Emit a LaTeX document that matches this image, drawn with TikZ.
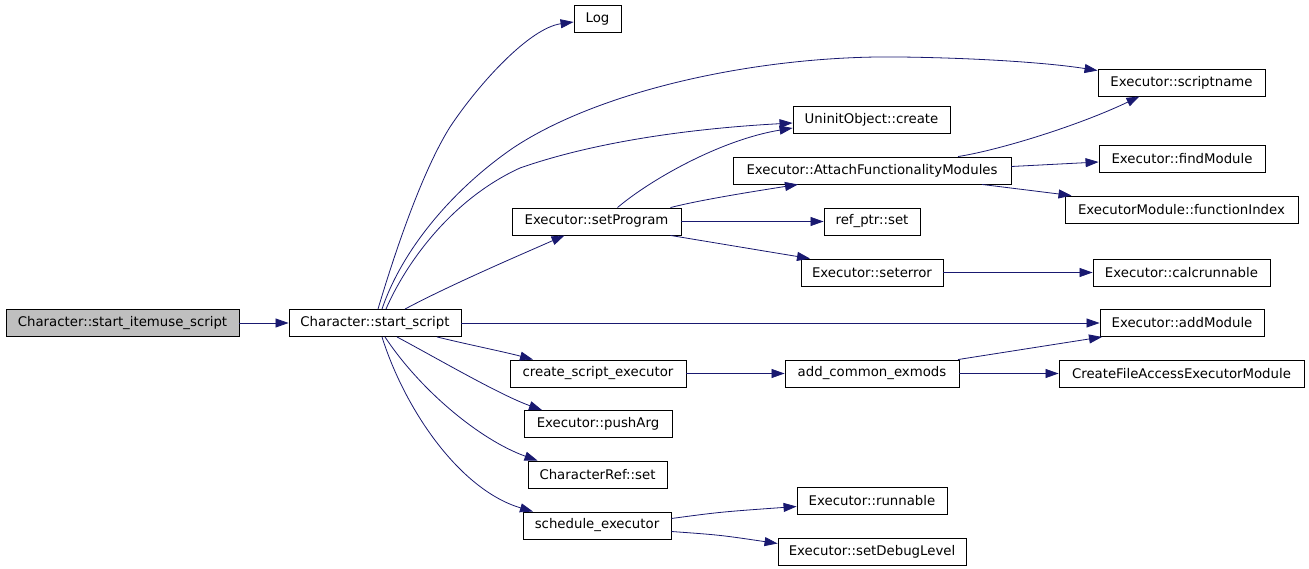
\documentclass[tikz,border=0pt]{standalone}
\usepackage{fontspec}
\setmainfont{DejaVu Sans}
\usetikzlibrary{arrows.meta}
\definecolor{edgeblue}{HTML}{191970}
\begin{document}
\begin{tikzpicture}[x=1pt,y=-1pt,
  box/.style={draw=black,line width=0.9pt,fill=white,minimum height=27pt,inner sep=0pt,
    font=\fontsize{13.3}{16}\selectfont,text=black},
  e/.style={draw=edgeblue,line width=0.8pt,-{Triangle[length=13pt,width=9pt]}}]
\useasboundingbox[fill=white] (0,0) rectangle (1309,569);
% nodes
\node[box,fill={rgb,255:red,191;green,191;blue,191},minimum width=233pt] (itemuse) at (122.5,323) {Character::start\_itemuse\_script};
\node[box,minimum width=172pt] (start) at (375,323) {Character::start\_script};
\node[box,minimum width=47pt] (Log) at (597.5,19) {Log};
\node[box,minimum width=167pt] (scriptname) at (1181.5,82.5) {Executor::scriptname};
\node[box,minimum width=157pt] (uninit) at (871.5,120) {UninitObject::create};
\node[box,minimum width=278pt] (attach) at (872,170.5) {Executor::AttachFunctionalityModules};
\node[box,minimum width=166pt] (findModule) at (1182,158.5) {Executor::findModule};
\node[box,minimum width=233pt] (functionIndex) at (1181.5,209.5) {ExecutorModule::functionIndex};
\node[box,minimum width=169pt] (setProgram) at (596.5,221.5) {Executor::setProgram};
\node[box,minimum width=96pt] (refptr) at (872,221.5) {ref\_ptr::set};
\node[box,minimum width=142pt] (seterror) at (872,272.5) {Executor::seterror};
\node[box,minimum width=177pt] (calcrunnable) at (1181.5,272.5) {Executor::calcrunnable};
\node[box,minimum width=164pt] (addModule) at (1182,323) {Executor::addModule};
\node[box,minimum width=176pt] (create) at (598,373.5) {create\_script\_executor};
\node[box,minimum width=174pt] (addcommon) at (872,373.5) {add\_common\_exmods};
\node[box,minimum width=245pt] (createfile) at (1181.5,373.5) {CreateFileAccessExecutorModule};
\node[box,minimum width=148pt] (pushArg) at (598,424) {Executor::pushArg};
\node[box,minimum width=139pt] (charref) at (597.5,474.5) {CharacterRef::set};
\node[box,minimum width=148pt] (schedule) at (597,525.5) {schedule\_executor};
\node[box,minimum width=150pt] (runnable) at (872,500.5) {Executor::runnable};
\node[box,minimum width=188pt] (debuglevel) at (872,551.5) {Executor::setDebugLevel};
% edges
\draw[e] (itemuse.east) -- (start.west);
\draw[e] ([xshift=3pt]start.north) .. controls (392,262) and (420,175) .. (450,127)
  .. controls (480,82) and (530,28) .. ([yshift=-3pt]Log.west);
\draw[e] ([xshift=7pt]start.north) .. controls (402,250) and (452,190) .. (513,148)
  .. controls (600,90) and (760,55) .. (900,57)
  .. controls (980,58) and (1050,63) .. ([yshift=-2pt]scriptname.north west);
\draw[e] ([xshift=11pt]start.north) .. controls (405,265) and (450,200) .. (520,168)
  .. controls (600,140) and (700,128) .. ([yshift=-3pt]uninit.west);
\draw[e] ([xshift=30pt]start.north) .. controls (450,285) and (520,255) .. ([xshift=-32pt]setProgram.south);
\draw[e] (start.east) -- (addModule.west);
\draw[e] ([xshift=62pt]start.south) .. controls (470,345) and (505,352) .. ([xshift=-65pt]create.north);
\draw[e] ([xshift=22pt]start.south) .. controls (440,360) and (500,395) .. ([xshift=-56pt]pushArg.north);
\draw[e] ([xshift=10pt]start.south) .. controls (420,390) and (480,440) .. ([xshift=-60pt]charref.north);
\draw[e] ([xshift=7pt]start.south) .. controls (405,410) and (460,490) .. ([xshift=-64pt]schedule.north);
\draw[e] ([xshift=21pt]setProgram.north) .. controls (650,180) and (720,140) .. ([yshift=-8pt]uninit.west);
\draw[e] ([xshift=74pt]setProgram.north) .. controls (700,200) and (750,192) .. ([xshift=-74pt]attach.south);
\draw[e] (setProgram.east) -- (refptr.west);
\draw[e] ([xshift=74pt]setProgram.south) .. controls (710,242) and (770,252) .. ([xshift=-62pt]seterror.north);
\draw[e] ([xshift=86pt]attach.north) .. controls (1000,150) and (1080,125) .. ([xshift=-42pt]scriptname.south);
\draw[e] ([yshift=4pt]attach.east) -- ([yshift=-3.5pt]findModule.west);
\draw[e] ([xshift=110pt]attach.south) -- ([xshift=-110pt]functionIndex.north);
\draw[e] (seterror.east) -- (calcrunnable.west);
\draw[e] (create.east) -- (addcommon.west);
\draw[e] (addcommon.east) -- (createfile.west);
\draw[e] ([xshift=86pt]addcommon.north) -- ([xshift=-80pt]addModule.south);
\draw[e] ([yshift=7pt]schedule.east) .. controls (720,512) .. ([yshift=-6pt]runnable.west);
\draw[e] ([yshift=-6pt]schedule.east) .. controls (720,535) .. ([yshift=8pt]debuglevel.west);
\end{tikzpicture}
\end{document}
